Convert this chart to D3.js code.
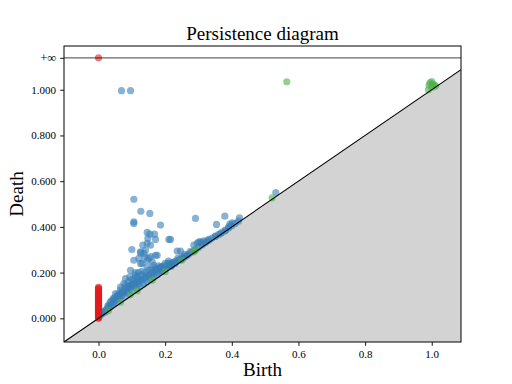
<!DOCTYPE html>
<html>
<head>
<meta charset="utf-8">
<script src="https://cdn.jsdelivr.net/npm/d3@7"></script>
<style>
    body { margin: 0; background: #fff; }
    text { font-family: "Liberation Serif", "DejaVu Serif", serif; }
</style>
</head>
<body>
<svg id="chart" width="512" height="384"></svg>
<script>
"use strict";

// dim 0 intervals (birth is always 0), one of them never dies
var dim0Deaths = [0.000, 0.003, 0.007, 0.010, 0.014, 0.017, 0.021, 0.025, 0.028,
    0.031, 0.035, 0.039, 0.042, 0.046, 0.050, 0.053, 0.057, 0.061, 0.064, 0.068,
    0.071, 0.075, 0.079, 0.083, 0.086, 0.090, 0.094, 0.097, 0.101, 0.105, 0.109,
    0.112, 0.116, 0.120, 0.124, 0.128, 0.132, 0.136];
var dim0Infinite = [0.0];

// dim 1 intervals [birth, death]
var dim1Points = [
    [0.069, 0.996], [0.096, 0.996],
    [0.106, 0.521], [0.127, 0.468], [0.154, 0.459], [0.106, 0.422], [0.106, 0.415],
    [0.186, 0.408], [0.146, 0.376], [0.154, 0.368], [0.168, 0.368], [0.148, 0.350],
    [0.171, 0.345], [0.211, 0.345], [0.146, 0.328], [0.156, 0.320], [0.133, 0.320],
    [0.100, 0.301], [0.141, 0.298], [0.126, 0.286], [0.136, 0.284], [0.176, 0.276],
    [0.236, 0.294], [0.246, 0.294], [0.291, 0.437], [0.379, 0.447], [0.423, 0.440],
    [0.354, 0.411], [0.394, 0.412], [0.401, 0.418], [0.391, 0.400], [0.532, 0.550],
    [0.126, 0.291], [0.171, 0.276], [0.106, 0.254], [0.126, 0.240], [0.161, 0.247],
    [0.191, 0.225], [0.216, 0.240], [0.096, 0.210], [0.111, 0.189], [0.081, 0.174],
    [0.076, 0.152], [0.066, 0.137], [0.051, 0.108], [0.044, 0.086], [0.031, 0.057],
    [0.021, 0.035], [0.146, 0.254], [0.131, 0.240], [0.146, 0.225], [0.166, 0.232],
    [0.186, 0.225], [0.081, 0.145], [0.066, 0.123], [0.094, 0.181], [0.116, 0.181],
    [0.251, 0.269], [0.266, 0.276], [0.286, 0.320], [0.296, 0.328], [0.301, 0.335],
    [0.306, 0.335], [0.316, 0.339], [0.331, 0.345], [0.351, 0.360], [0.366, 0.371],
    [0.381, 0.383], [0.256, 0.266], [0.246, 0.257], [0.231, 0.250], [0.221, 0.243],
    [0.216, 0.345], [0.151, 0.262], [0.156, 0.270], [0.121, 0.262], [0.139, 0.268],
    [0.005, 0.012], [0.010, 0.020], [0.015, 0.025], [0.020, 0.028], [0.025, 0.040],
    [0.030, 0.045], [0.035, 0.050], [0.040, 0.060], [0.045, 0.065], [0.050, 0.070],
    [0.055, 0.080], [0.060, 0.090], [0.065, 0.085], [0.070, 0.100], [0.075, 0.110],
    [0.080, 0.095], [0.085, 0.120], [0.090, 0.110], [0.095, 0.130], [0.100, 0.120],
    [0.105, 0.140], [0.110, 0.150], [0.115, 0.130], [0.120, 0.160], [0.125, 0.140],
    [0.130, 0.170], [0.135, 0.150], [0.140, 0.180], [0.145, 0.160], [0.150, 0.190],
    [0.155, 0.170], [0.160, 0.200], [0.165, 0.180], [0.170, 0.210], [0.175, 0.190],
    [0.180, 0.200], [0.185, 0.220], [0.190, 0.205], [0.195, 0.230], [0.200, 0.215],
    [0.205, 0.225], [0.210, 0.230], [0.215, 0.235], [0.220, 0.232], [0.225, 0.245],
    [0.230, 0.240], [0.240, 0.255], [0.250, 0.260], [0.260, 0.270], [0.270, 0.280],
    [0.280, 0.290], [0.290, 0.300], [0.300, 0.310], [0.310, 0.320], [0.320, 0.330],
    [0.330, 0.340], [0.340, 0.350], [0.350, 0.358], [0.360, 0.366], [0.370, 0.376],
    [0.380, 0.386], [0.390, 0.395], [0.400, 0.405], [0.410, 0.415], [0.420, 0.425],
    [0.060, 0.100], [0.070, 0.115], [0.080, 0.130], [0.090, 0.140], [0.100, 0.150],
    [0.110, 0.160], [0.120, 0.175], [0.130, 0.190], [0.140, 0.200], [0.150, 0.210],
    [0.160, 0.215], [0.170, 0.220], [0.180, 0.230], [0.200, 0.240], [0.210, 0.250],
    [0.035, 0.070], [0.045, 0.080], [0.055, 0.095], [0.090, 0.160], [0.100, 0.170],
    [0.120, 0.200], [0.130, 0.205], [0.110, 0.200], [0.012, 0.030], [0.028, 0.055],
    [0.038, 0.075], [0.048, 0.090], [0.058, 0.105], [0.068, 0.110], [0.078, 0.120],
    [0.088, 0.135], [0.098, 0.145], [0.108, 0.170], [0.118, 0.150], [0.128, 0.165],
    [0.138, 0.175], [0.148, 0.185], [0.158, 0.190], [0.168, 0.200], [0.178, 0.215],
    [0.188, 0.210], [0.198, 0.220], [0.208, 0.240], [0.218, 0.228], [0.238, 0.262],
    [0.258, 0.280], [0.275, 0.292], [0.310, 0.330], [0.325, 0.338]
];

// dim 2 intervals [birth, death]
var dim2Points = [
    [0.030, 0.034], [0.066, 0.071], [0.096, 0.104], [0.116, 0.121], [0.161, 0.167],
    [0.200, 0.204], [0.250, 0.254], [0.286, 0.291], [0.291, 0.298], [0.521, 0.527],
    [0.565, 1.035],
    [0.990, 1.000], [0.992, 1.020], [0.995, 1.030], [1.000, 1.036], [1.003, 1.025],
    [1.008, 1.020], [1.012, 1.016], [1.000, 1.010]
];

var yTickValues = [0, 0.2, 0.4, 0.6, 0.8, 1.0];
var xTickValues = [0, 0.2, 0.4, 0.6, 0.8, 1.0];
var dimColors = ["#e41a1c", "#377eb8", "#4daf4a"];


var svg = d3.select("#chart"),
    margin = {left: 64, right: 51, top: 46, bottom: 42},
    width = 512 - margin.left - margin.right,
    height = 384 - margin.top - margin.bottom,
    g = svg.append("g")
        .attr("transform", "translate(" + margin.left + "," + margin.top + ")");

// same limits as gudhi: 10% margin, infinity drawn above the last death
var maxDeath = d3.max(dim1Points.concat(dim2Points), function (d) { return d[1]; }),
    minBirth = 0,
    delta = (maxDeath - minBirth) * 0.1,
    infinity = maxDeath + delta,
    axisStart = minBirth - delta,
    axisEnd = maxDeath + delta / 2;

var x = d3.scaleLinear().domain([axisStart, axisEnd]).range([0, width]),
    y = d3.scaleLinear().domain([axisStart, infinity + delta / 2]).range([height, 0]);

g.append("defs").append("clipPath").attr("id", "clip")
    .append("rect").attr("width", width).attr("height", height);

var plot = g.append("g").attr("clip-path", "url(#clip)");

// grey half plane under the diagonal
plot.append("path")
    .attr("d", d3.line()([[x(axisStart), y(axisStart)], [x(axisEnd), y(axisEnd)],
        [x(axisEnd), y(axisStart)]]) + "Z")
    .attr("fill", "#d3d3d3");

function drawPoints(pts, color) {
    plot.append("g").selectAll("circle").data(pts).enter().append("circle")
        .attr("cx", function (d) { return x(d[0]); })
        .attr("cy", function (d) { return y(d[1]); })
        .attr("r", 3.6)
        .attr("fill", color)
        .attr("fill-opacity", 0.6);
}

drawPoints(dim1Points, dimColors[1]);
drawPoints(dim2Points, dimColors[2]);
drawPoints(dim0Deaths.map(function (d) { return [0, d]; }), dimColors[0]);
drawPoints(dim0Infinite.map(function (b) { return [b, infinity]; }), dimColors[0]);

plot.append("line")
    .attr("x1", x(axisStart)).attr("y1", y(axisStart))
    .attr("x2", x(axisEnd)).attr("y2", y(axisEnd))
    .attr("stroke", "#000").attr("stroke-width", 1.1);

plot.append("line")
    .attr("x1", 0).attr("x2", width)
    .attr("y1", y(infinity)).attr("y2", y(infinity))
    .attr("stroke", "#000").attr("stroke-opacity", 0.6).attr("stroke-width", 1.1);

// axes
var xAxis = d3.axisBottom(x).tickValues(xTickValues).tickSize(3.9).tickPadding(4)
        .tickFormat(d3.format(".1f")),
    yAxis = d3.axisLeft(y).tickValues(yTickValues.concat([infinity])).tickSize(3.9)
        .tickPadding(4)
        .tickFormat(function (d) { return d === infinity ? "+\u221e" : d3.format(".3f")(d); });

var gx = g.append("g").attr("transform", "translate(0," + height + ")").call(xAxis),
    gy = g.append("g").call(yAxis);

[gx, gy].forEach(function (a) {
    a.select(".domain").remove();
    a.selectAll(".tick line").attr("stroke", "#000").attr("stroke-width", 0.9);
    a.selectAll(".tick text").attr("font-size", 11)
        .attr("font-family", "'Liberation Serif', serif").attr("fill", "#000");
});
// the infinity glyph is tiny in Liberation Serif
gy.selectAll(".tick text").filter(function (d) { return d === infinity; })
    .attr("font-family", "'DejaVu Serif', serif").attr("font-size", 12.5);

g.append("rect").attr("width", width).attr("height", height)
    .attr("fill", "none").attr("stroke", "#000").attr("stroke-width", 1);

g.append("text")
    .attr("x", width / 2).attr("y", -6)
    .attr("text-anchor", "middle")
    .attr("font-size", 19)
    .text("Persistence diagram");

g.append("text")
    .attr("x", width / 2).attr("y", height + 34)
    .attr("text-anchor", "middle")
    .attr("font-size", 19)
    .text("Birth");

g.append("text")
    .attr("transform", "translate(-41," + (height / 2) + ") rotate(-90)")
    .attr("text-anchor", "middle")
    .attr("font-size", 19)
    .text("Death");
</script>
</body>
</html>
